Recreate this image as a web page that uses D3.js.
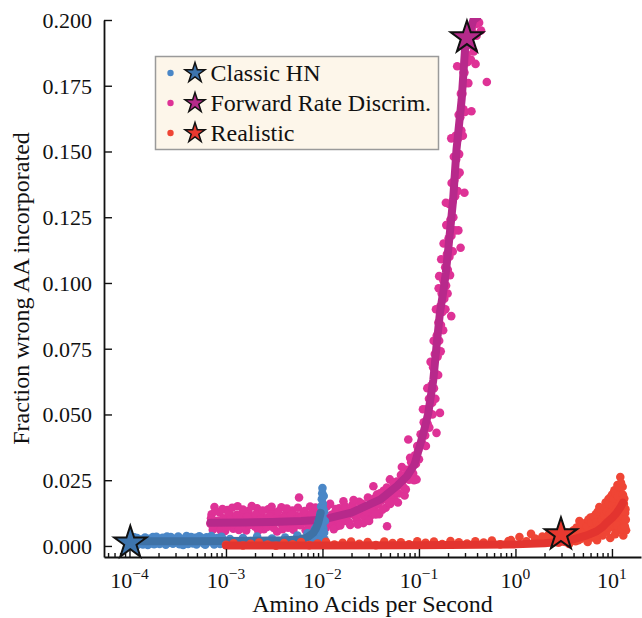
<!DOCTYPE html>
<html>
<head>
<meta charset="utf-8">
<script src="https://cdn.jsdelivr.net/npm/d3@7"></script>
<style>
  body { margin: 0; background: #fff; }
  svg text { font-family: "Liberation Serif", Tinos, "Times New Roman", Times, "Nimbus Roman", "Nimbus Roman No9 L", FreeSerif, "Noto Serif", "DejaVu Serif", Georgia, serif; fill: #111; }
</style>
</head>
<body>
<svg id="chart" width="642" height="618"></svg>
<script>
// ---- data ----
const seriesNames = ['Classic HN', 'Forward Rate Discrim.', 'Realistic'];
const yTicks = [0, 0.025, 0.05, 0.075, 0.1, 0.125, 0.15, 0.175, 0.2];
const xTicks = [1e-4, 1e-3, 1e-2, 1e-1, 1e0, 1e1];

const blueDots = [
  [1.1e-4,0.0021],[1.15e-4,0.0009],[1.2e-4,0.0030],[1.25e-4,0.0015],[1.3e-4,0.0024],[1.38e-4,0.0006],
  [1.45e-4,0.0032],[1.5e-4,0.0018],[1.6e-4,0.0027],[1.68e-4,0.0011],[1.75e-4,0.0034],[1.85e-4,0.0020],
  [1.95e-4,0.0028],[2.05e-4,0.0008],[2.15e-4,0.0023],[2.3e-4,0.0016],[2.45e-4,0.0036],[2.6e-4,0.0012],
  [2.75e-4,0.0025],[2.9e-4,0.0019],[3.1e-4,0.0030],[3.3e-4,0.0007],[3.5e-4,0.0022],[3.7e-4,0.0015],
  [3.9e-4,0.0038],[4.2e-4,0.0026],[4.5e-4,0.0010],[4.8e-4,0.0031],[5.1e-4,0.0018],[5.5e-4,0.0024],
  [5.9e-4,0.0009],[6.3e-4,0.0033],[6.8e-4,0.0017],[7.3e-4,0.0027],[7.8e-4,0.0012],[8.4e-4,0.0022],
  [9e-4,0.0035],[9.6e-4,0.0014],[1.1e-3,0.0026],[1.3e-3,0.0012],[1.5e-3,0.0030],[1.8e-3,0.0019],
  [2.1e-3,0.0036],[2.5e-3,0.0015],[3e-3,0.0028],[3.5e-3,0.0010],[4.1e-3,0.0032],[4.8e-3,0.0021],
  [5.5e-3,0.0040],[6.3e-3,0.0025],[7e-3,0.0048],[7.7e-3,0.0035],[8.3e-3,0.0062],[8.8e-3,0.0045],
  [9.1e-3,0.0090],[9.3e-3,0.0030],[9.5e-3,0.0120],[9.6e-3,0.0058],[9.7e-3,0.0150],[9.8e-3,0.0085],
  [9.85e-3,0.0178],[9.9e-3,0.0040],[9.95e-3,0.0200],[1e-2,0.0110],[1e-2,0.0220],[1.01e-2,0.0160],
  [1.02e-2,0.0065],[1.03e-2,0.0190],[1.04e-2,0.0130],[1.05e-2,0.0025],[1.06e-2,0.0095],
  [1.12e-4,0.0033],[1.22e-4,0.0005],[1.33e-4,0.0012],[1.42e-4,0.0026],[1.55e-4,0.0004],[1.65e-4,0.0022],
  [1.8e-4,0.0007],[1.9e-4,0.0035],[2.0e-4,0.0014],[2.2e-4,0.0031],[2.38e-4,0.0005],[2.52e-4,0.0027],
  [2.68e-4,0.0034],[2.82e-4,0.0009],[3e-4,0.0014],[3.2e-4,0.0036],[3.4e-4,0.0027],[3.6e-4,0.0004],
  [3.8e-4,0.0020],[4.05e-4,0.0008],[4.35e-4,0.0034],[4.65e-4,0.0021],[4.95e-4,0.0006],[5.3e-4,0.0037],
  [5.7e-4,0.0029],[6.1e-4,0.0005],[6.55e-4,0.0024],[7.05e-4,0.0038],[7.55e-4,0.0006],[8.1e-4,0.0030],
  [8.7e-4,0.0008],[9.3e-4,0.0025],[8.1e-3,0.0028],[8.6e-3,0.0070],[9.2e-3,0.0055],[9.4e-3,0.0100],
  [1.0e-2,0.0075],[1.02e-2,0.0140],[1.04e-2,0.0050]
];
const blueCurve = [
  [1.05e-4,0.0018],[2e-4,0.0018],[5e-4,0.0018],[1e-3,0.0019],[2e-3,0.0020],[4e-3,0.0022],
  [5.85e-3,0.0025],[7e-3,0.0033],[8.03e-3,0.0050],[8.6e-3,0.0068],[9.04e-3,0.0088],[9.58e-3,0.0126]
];

const pinkDots = [
  [6.9e-4,0.0085],[7.1e-4,0.0120],[7.3e-4,0.0062],[7.6e-4,0.0148],[7.9e-4,0.0095],[8.2e-4,0.0071],
  [8.6e-4,0.0128],[9e-4,0.0082],[9.4e-4,0.0105],[9.8e-4,0.0057],[1.03e-3,0.0137],[1.08e-3,0.0090],
  [1.13e-3,0.0115],[1.19e-3,0.0066],[1.25e-3,0.0100],[1.32e-3,0.0151],[1.39e-3,0.0078],[1.46e-3,0.0122],
  [1.54e-3,0.0088],[1.62e-3,0.0059],[1.71e-3,0.0133],[1.8e-3,0.0097],[1.9e-3,0.0112],[2e-3,0.0073],
  [2.1e-3,0.0143],[2.22e-3,0.0086],[2.34e-3,0.0118],[2.47e-3,0.0064],[2.6e-3,0.0104],[2.74e-3,0.0139],
  [2.89e-3,0.0080],[3.05e-3,0.0126],[3.2e-3,0.0093],[3.38e-3,0.0055],[3.56e-3,0.0110],[3.75e-3,0.0147],
  [3.95e-3,0.0084],[4.17e-3,0.0121],[4.4e-3,0.0069],[4.63e-3,0.0102],[4.88e-3,0.0135],[5.15e-3,0.0077],
  [5.43e-3,0.0114],[5.72e-3,0.0184],[6.03e-3,0.0091],[6.35e-3,0.0127],[6.7e-3,0.0060],[7.06e-3,0.0108],
  [7.44e-3,0.0150],[7.84e-3,0.0083],[8.26e-3,0.0119],[8.7e-3,0.0072],[9.17e-3,0.0141],[9.66e-3,0.0098],
  [7.0e-4,0.0105],[7.4e-4,0.0078],[7.8e-4,0.0132],[8.4e-4,0.0097],[8.8e-4,0.0060],[9.2e-4,0.0140],
  [9.6e-4,0.0088],[1.01e-3,0.0070],[1.06e-3,0.0125],[1.11e-3,0.0100],[1.16e-3,0.0145],[1.22e-3,0.0083],
  [1.29e-3,0.0118],[1.36e-3,0.0061],[1.43e-3,0.0099],[1.5e-3,0.0138],[1.58e-3,0.0075],[1.66e-3,0.0110],
  [1.75e-3,0.0080],[1.85e-3,0.0152],[1.95e-3,0.0092],[2.05e-3,0.0120],[2.16e-3,0.0058],[2.28e-3,0.0101],
  [2.4e-3,0.0135],[2.53e-3,0.0089],[2.67e-3,0.0072],[2.82e-3,0.0113],[2.97e-3,0.0149],[3.12e-3,0.0068],
  [3.3e-3,0.0103],[3.47e-3,0.0131],[3.65e-3,0.0087],[3.85e-3,0.0064],[4.06e-3,0.0107],[4.28e-3,0.0142],
  [4.51e-3,0.0090],[4.75e-3,0.0118],[5.0e-3,0.0062],[5.28e-3,0.0099],[5.57e-3,0.0145],[5.87e-3,0.0079],
  [6.2e-3,0.0112],[6.52e-3,0.0133],[6.88e-3,0.0087],[7.25e-3,0.0070],[7.64e-3,0.0122],[8.05e-3,0.0097],
  [8.48e-3,0.0146],[8.93e-3,0.0085],[9.41e-3,0.0116],[9.9e-3,0.0067],
  [1.02e-2,0.0130],[1.08e-2,0.0068],[1.14e-2,0.0112],[1.2e-2,0.0160],[1.27e-2,0.0089],[1.34e-2,0.0125],
  [1.41e-2,0.0075],[1.49e-2,0.0143],[1.57e-2,0.0106],[1.65e-2,0.0170],[1.74e-2,0.0095],[1.84e-2,0.0134],
  [1.94e-2,0.0080],[2.04e-2,0.0156],[2.15e-2,0.0117],[2.27e-2,0.0099],[2.4e-2,0.0168],[2.53e-2,0.0128],
  [2.66e-2,0.0087],[2.81e-2,0.0150],[2.96e-2,0.0184],[3.12e-2,0.0113],[3.29e-2,0.0162],[3.37e-2,0.0227],
  [3.47e-2,0.0138],[3.66e-2,0.0195],[3.86e-2,0.0121],[4.07e-2,0.0172],[4.29e-2,0.0210],[4.52e-2,0.0145],
  [4.67e-2,0.0075],[4.77e-2,0.0188],[5.0e-2,0.0253],[5.03e-2,0.0160],[5.3e-2,0.0218],[5.6e-2,0.0175],
  [5.9e-2,0.0245],[6.2e-2,0.0200],[6.5e-2,0.0270],[6.8e-2,0.0228],[7.1e-2,0.0192],[7.5e-2,0.0290],
  [7.75e-2,0.0405],[7.9e-2,0.0252],[8.3e-2,0.0318],[8.7e-2,0.0275],[9.1e-2,0.0345],[9.44e-2,0.0253],
  [9.6e-2,0.0380],[0.100,0.0330],
  [1.05e-2,0.0098],[1.11e-2,0.0150],[1.17e-2,0.0083],[1.24e-2,0.0118],[1.31e-2,0.0064],[1.38e-2,0.0140],
  [1.45e-2,0.0100],[1.53e-2,0.0078],[1.61e-2,0.0128],[1.7e-2,0.0152],[1.79e-2,0.0113],[1.89e-2,0.0090],
  [1.99e-2,0.0122],[2.1e-2,0.0175],[2.21e-2,0.0139],[2.33e-2,0.0082],[2.46e-2,0.0120],[2.59e-2,0.0160],
  [2.73e-2,0.0110],[2.88e-2,0.0130],[3.04e-2,0.0095],[3.2e-2,0.0142],[3.38e-2,0.0178],[3.56e-2,0.0120],
  [3.76e-2,0.0160],[3.96e-2,0.0200],[4.18e-2,0.0138],[4.4e-2,0.0180],[4.64e-2,0.0222],[4.9e-2,0.0165],
  [5.15e-2,0.0195],[5.45e-2,0.0240],[5.75e-2,0.0205],[6.05e-2,0.0165],[6.35e-2,0.0232],[6.65e-2,0.0300],
  [7.0e-2,0.0255],[7.3e-2,0.0215],[7.7e-2,0.0268],[8.1e-2,0.0335],[8.5e-2,0.0300],[8.9e-2,0.0250],
  [9.3e-2,0.0312],[9.8e-2,0.0365],
  [0.104,0.0425],[0.108,0.0390],[0.112,0.0470],[0.116,0.0420],[0.119,0.0520],[0.123,0.0465],
  [0.127,0.0560],[0.130,0.0505],[0.134,0.0610],[0.137,0.0545],[0.140,0.0680],[0.143,0.0600],
  [0.146,0.0730],[0.149,0.0655],[0.152,0.0430],[0.153,0.0800],[0.156,0.0720],[0.159,0.0850],
  [0.162,0.0780],[0.162,0.1026],[0.165,0.0506],[0.166,0.0910],[0.169,0.0840],[0.172,0.0960],
  [0.175,0.0890],[0.179,0.1010],[0.183,0.0940],[0.187,0.1060],[0.190,0.1305],[0.191,0.0990],
  [0.195,0.1110],[0.199,0.1050],[0.203,0.1170],[0.207,0.1100],[0.212,0.1240],[0.216,0.0874],
  [0.216,0.1550],[0.217,0.1180],[0.222,0.1310],[0.227,0.1250],[0.232,0.1390],[0.237,0.1330],
  [0.243,0.1470],[0.249,0.1824],[0.249,0.1410],[0.256,0.1200],[0.255,0.1550],[0.261,0.1490],
  [0.270,0.1134],[0.268,0.1630],[0.275,0.1580],[0.282,0.1720],[0.289,0.1660],[0.296,0.1343],
  [0.296,0.1800],[0.304,0.1760],[0.312,0.1870],[0.320,0.1840],[0.330,0.1930],[0.340,0.1905],
  [0.350,0.1653],[0.352,0.1970],[0.365,0.1950],[0.378,0.1990],[0.386,0.1833],[0.390,0.1985],
  [0.405,0.1995],[0.505,0.1764],
  [0.110,0.0520],[0.118,0.0380],[0.122,0.0600],[0.128,0.0450],[0.132,0.0700],[0.138,0.0500],
  [0.142,0.0780],[0.148,0.0560],[0.150,0.0900],[0.158,0.0650],[0.160,0.0980],[0.168,0.0740],
  [0.170,0.1090],[0.178,0.0820],[0.180,0.1150],[0.188,0.0900],[0.192,0.1220],[0.198,0.0960],
  [0.205,0.1300],[0.210,0.1030],[0.218,0.1380],[0.224,0.1120],[0.230,0.1480],[0.236,0.1200],
  [0.240,0.1560],[0.252,0.1350],[0.258,0.1640],[0.264,0.1420],[0.272,0.1720],[0.285,0.1560],
  [0.290,0.1800],[0.300,0.1650],[0.310,0.1920],[0.325,0.1760],[0.345,0.1850],[0.360,0.1980],
  [0.370,0.1880],[0.395,0.1940],[0.420,0.1990],[0.440,0.1960]
];
const pinkCurve = [
  [6.9e-4,0.0088],[1.5e-3,0.0089],[3e-3,0.0091],[6e-3,0.0095],[1e-2,0.0100],[2e-2,0.0127],
  [4e-2,0.0177],[0.06,0.0230],[0.075,0.0265],[0.09,0.0310],[0.102,0.0380],[0.115,0.0450],
  [0.125,0.0506],[0.141,0.0633],[0.152,0.0760],[0.165,0.0887],[0.178,0.0963],[0.19,0.1040],
  [0.201,0.1127],[0.226,0.1317],[0.245,0.1508],[0.277,0.1698],[0.30,0.1888],[0.366,0.2000],[0.40,0.2010]
];

const redDots = [
  [1.0e-3,0.0004],[1.2e-3,0.0010],[1.5e-3,0.0002],[1.8e-3,0.0008],[2.2e-3,0.0013],[2.7e-3,0.0005],
  [3.3e-3,0.0001],[4e-3,0.0011],[4.9e-3,0.0006],[6e-3,0.0015],[7.3e-3,0.0003],[8.9e-3,0.0009],
  [1.09e-2,0.0016],[1.33e-2,0.0005],[1.62e-2,0.0012],[1.98e-2,0.0017],[2.41e-2,0.0008],[2.94e-2,0.0015],
  [3.58e-2,0.0003],[4.37e-2,0.0017],[5.33e-2,0.0011],[6.5e-2,0.0014],[7.9e-2,0.0006],[9.6e-2,0.0018],
  [0.117,0.0012],[0.143,0.0017],[0.174,0.0007],[0.212,0.0019],[0.259,0.0014],[0.315,0.0009],
  [0.384,0.0018],[0.468,0.0013],[0.57,0.0021],[0.695,0.0006],[0.847,0.0019],[0.9,0.0022],
  [1.1,0.0034],[1.3,0.0018],[1.45,0.0046],[1.6,0.0028],[1.75,0.0012],[1.9,0.0036],[2.05,0.0024],
  [2.2,0.0042],[2.35,0.0016],[2.5,0.0030],[2.6,0.0028],[2.8,0.0012],[3.0,0.0040],[3.2,0.0022],
  [3.4,0.0050],[3.6,0.0008],[3.8,0.0035],[4.0,0.0060],[4.2,0.0018],[4.4,0.0045],[4.6,0.0095],
  [4.8,0.0028],[5.0,0.0070],[5.2,0.0040],[5.4,0.0088],[5.6,0.0015],[5.8,0.0058],[6.0,0.0108],
  [6.2,0.0032],[6.4,0.0078],[6.6,0.0050],[6.8,0.0120],[7.0,0.0022],[7.2,0.0095],[7.4,0.0148],
  [7.6,0.0065],[7.8,0.0110],[8.0,0.0040],[8.2,0.0135],[8.4,0.0085],[8.6,0.0165],[8.8,0.0055],
  [9.0,0.0120],[9.2,0.0178],[9.4,0.0095],[9.6,0.0030],[9.8,0.0150],[10.0,0.0195],[10.2,0.0070],
  [10.4,0.0130],[10.6,0.0212],[10.8,0.0045],[11.0,0.0170],[11.2,0.0100],[11.4,0.0232],[11.6,0.0060],
  [11.8,0.0150],[12.0,0.0200],[12.2,0.0262],[12.3,0.0085],[12.5,0.0180],[12.7,0.0120],[12.9,0.0225],
  [13.1,0.0040],[13.3,0.0160],[13.5,0.0100],[13.8,0.0140],[14.0,0.0060],
  [3.1,0.0030],[3.3,0.0015],[3.5,0.0038],[3.7,0.0025],[3.9,0.0048],[4.1,0.0032],[4.3,0.0070],
  [4.5,0.0022],[4.7,0.0058],[4.9,0.0085],[5.1,0.0050],[5.3,0.0030],[5.5,0.0075],[5.7,0.0100],
  [5.9,0.0042],[6.1,0.0088],[6.3,0.0060],[6.5,0.0112],[6.7,0.0035],[6.9,0.0090],[7.1,0.0130],
  [7.3,0.0050],[7.5,0.0080],[7.7,0.0140],[7.9,0.0100],[8.1,0.0062],[8.3,0.0115],[8.5,0.0145],
  [8.7,0.0090],[8.9,0.0130],[9.1,0.0070],[9.3,0.0160],[9.5,0.0125],[9.7,0.0185],[9.9,0.0100],
  [10.1,0.0155],[10.3,0.0080],[10.5,0.0180],[10.7,0.0115],[10.9,0.0200],[11.1,0.0140],[11.3,0.0078],
  [11.5,0.0190],[11.7,0.0125],[11.9,0.0225],[12.1,0.0160],[12.4,0.0240],[12.6,0.0065],[12.8,0.0145],
  [13.0,0.0195],[13.2,0.0110],[13.4,0.0180],[13.6,0.0075],[13.7,0.0125],[13.9,0.0100]
];
const redCurve = [
  [1e-3,0.0002],[1e-2,0.0002],[0.1,0.0003],[1.0,0.0006],[2.0,0.0010],[3.0,0.0016],[3.94,0.0025],
  [5.5,0.0040],[6.94,0.0056],[8.0,0.0072],[8.81,0.0088],[10.0,0.0106],[11.2,0.0126],[12.2,0.0146],[13.0,0.0165]
];

const starPoints = [[1.02e-4,0.0012],[0.314,0.1933],[2.96,0.0044]];

// ---- styles ----
const dotColors = ['#4a87c7', '#de3296', '#ef4535'];
const lineColors = ['#3e72a6', '#b7298b', '#e3342f'];
const starColors = ['#3d74ad', '#b52a8a', '#e8382f'];

const svg = d3.select('#chart');
const margin = { left: 104, right: 1, top: 20, bottom: 61 };
const W = 642, H = 618;

const x = d3.scaleLog()
  .domain([Math.pow(10, -4.264), Math.pow(10, 1.301)])
  .range([margin.left, W - margin.right]);
const y = d3.scaleLinear()
  .domain([-0.0042, 0.2])
  .range([H - margin.bottom, margin.top]);

svg.append('rect').attr('width', W).attr('height', H).attr('fill', '#fff');

svg.append('defs').append('clipPath').attr('id', 'plotclip')
  .append('rect')
  .attr('x', margin.left).attr('y', margin.top - 2)
  .attr('width', W - margin.left - margin.right)
  .attr('height', H - margin.top - margin.bottom + 2);

const plot = svg.append('g').attr('clip-path', 'url(#plotclip)');

const line = d3.line().x(d => x(d[0])).y(d => y(d[1]));

function drawSeries(dots, curve, i) {
  plot.append('g').selectAll('circle')
    .data(dots).enter().append('circle')
    .attr('cx', d => x(d[0]))
    .attr('cy', d => y(d[1]))
    .attr('r', 4.3)
    .attr('fill', dotColors[i]);
  plot.append('path')
    .datum(curve)
    .attr('d', line)
    .attr('fill', 'none')
    .attr('stroke', lineColors[i])
    .attr('stroke-width', 8)
    .attr('stroke-linecap', 'round')
    .attr('stroke-linejoin', 'round');
}

drawSeries(pinkDots, pinkCurve, 1);
drawSeries(blueDots, blueCurve, 0);
drawSeries(redDots, redCurve, 2);

function starPath(R) {
  const r = R * 0.382;
  const pts = [];
  for (let k = 0; k < 10; k++) {
    const a = -Math.PI / 2 + k * Math.PI / 5;
    const rr = k % 2 === 0 ? R : r;
    pts.push([rr * Math.cos(a), rr * Math.sin(a)]);
  }
  return 'M' + pts.map(p => p[0].toFixed(2) + ',' + p[1].toFixed(2)).join('L') + 'Z';
}

svg.append('g').selectAll('path')
  .data(starPoints).enter().append('path')
  .attr('transform', d => `translate(${x(d[0])},${y(d[1])})`)
  .attr('d', starPath(17))
  .attr('fill', (d, i) => starColors[i])
  .attr('stroke', '#111')
  .attr('stroke-width', 2)
  .attr('stroke-linejoin', 'miter');

// ---- axes ----
const xMinor = x.ticks().filter(v => Math.abs(Math.log10(v) - Math.round(Math.log10(v))) > 1e-6);

const gxMinor = svg.append('g')
  .attr('transform', `translate(0,${H - margin.bottom})`)
  .call(d3.axisBottom(x).tickValues(xMinor).tickSize(-4).tickSizeOuter(0).tickFormat(''));
gxMinor.select('.domain').remove();

const gx = svg.append('g')
  .attr('transform', `translate(0,${H - margin.bottom})`)
  .call(d3.axisBottom(x).tickValues(xTicks).tickSize(-8).tickSizeOuter(0).tickFormat(''));

const gy = svg.append('g')
  .attr('transform', `translate(${margin.left},0)`)
  .call(d3.axisLeft(y).tickValues(yTicks).tickSize(-8).tickSizeOuter(0)
    .tickPadding(12).tickFormat(d3.format('.3f')));

[gx, gy, gxMinor].forEach(g => {
  g.attr('font-family', null);
  g.selectAll('.tick line').attr('stroke', '#111').attr('stroke-width', 1.4);
  g.select('.domain').attr('stroke', '#111').attr('stroke-width', 1.8);
});
gy.selectAll('.tick text')
  .attr('font-size', 22)
  .attr('fill', '#111')
  .attr('dy', '0.34em');

// x tick labels as 10^n
const xl = svg.append('g');
xTicks.forEach(v => {
  const e = Math.round(Math.log10(v));
  const t = xl.append('text')
    .attr('x', x(v))
    .attr('y', H - margin.bottom + 31)
    .attr('text-anchor', 'middle')
    .attr('font-size', 22);
  t.append('tspan').text('10');
  t.append('tspan')
    .attr('font-size', 15.5)
    .attr('dy', -9)
    .text(e < 0 ? '\u2212' + Math.abs(e) : String(e));
});

svg.append('text')
  .attr('x', (margin.left + W - margin.right) / 2)
  .attr('y', 612)
  .attr('text-anchor', 'middle')
  .attr('font-size', 24)
  .text('Amino Acids per Second');

svg.append('text')
  .attr('transform', `translate(29,${(margin.top + H - margin.bottom) / 2}) rotate(-90)`)
  .attr('text-anchor', 'middle')
  .attr('font-size', 24)
  .text('Fraction wrong AA incorporated');

// ---- legend ----
const lg = svg.append('g');
lg.append('rect')
  .attr('x', 155.5).attr('y', 56.5)
  .attr('width', 283).attr('height', 93)
  .attr('fill', '#fdf6ea')
  .attr('stroke', '#9a9a9a')
  .attr('stroke-width', 1.5);

seriesNames.forEach((name, i) => {
  const cy = 73 + i * 30;
  lg.append('circle').attr('cx', 170.5).attr('cy', cy).attr('r', 3.2).attr('fill', dotColors[i]);
  lg.append('path')
    .attr('transform', `translate(195,${cy})`)
    .attr('d', starPath(10.5))
    .attr('fill', starColors[i])
    .attr('stroke', '#111')
    .attr('stroke-width', 1.5);
  lg.append('text')
    .attr('x', 210.5)
    .attr('y', cy + 8)
    .attr('font-size', 24)
    .text(name);
});
</script>
</body>
</html>
